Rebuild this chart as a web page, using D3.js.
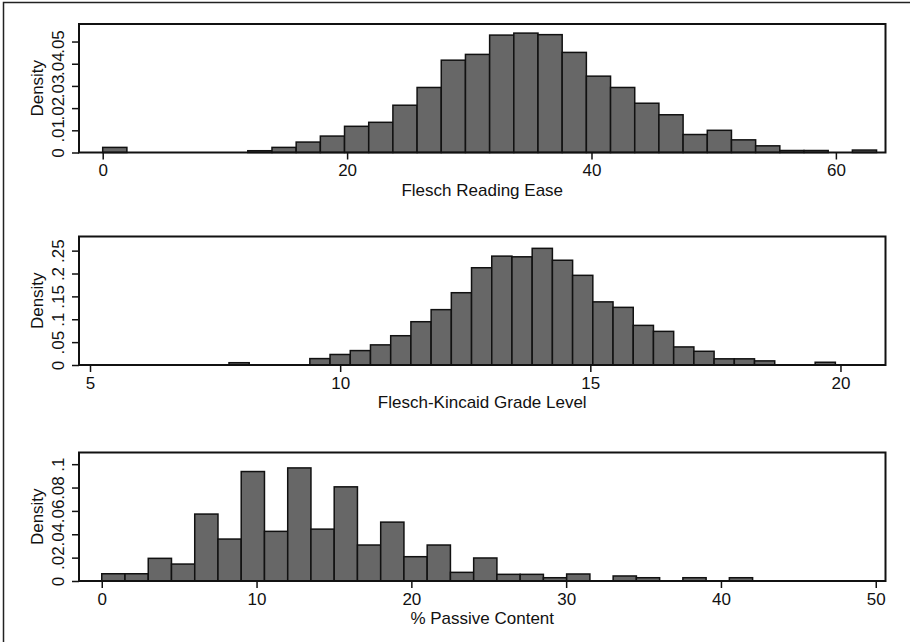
<!DOCTYPE html>
<html>
<head>
<meta charset="utf-8">
<script src="https://cdn.jsdelivr.net/npm/d3@7"></script>
<style>
  html, body { margin: 0; padding: 0; background: #fff; }
  svg { display: block; }
  text { font-family: "Liberation Sans", Arial, Helvetica, sans-serif; fill: #111; }
</style>
</head>
<body>
<svg id="chart" width="910" height="642"></svg>
<script>
// ---------- DATA ----------
// Flesch Reading Ease histogram (32 bins)
const freBinStart = 0;
const freBinWidth = 1.979;
const freDensity = [0.0023, 0, 0, 0, 0, 0, 0.0008, 0.0023, 0.0047, 0.0074, 0.0118, 0.0136,
  0.0213, 0.0293, 0.0416, 0.0442, 0.0529, 0.0538, 0.0531, 0.0451, 0.0344, 0.0293, 0.0222,
  0.0170, 0.0081, 0.0100, 0.0057, 0.0030, 0.0009, 0.0009, 0, 0.0011];
const freXTicks = [0, 20, 40, 60];
const freYTicks = [0, 0.01, 0.02, 0.03, 0.04, 0.05];
const freYLabels = ["0", ".01", ".02", ".03", ".04", ".05"];

// Flesch-Kincaid Grade Level histogram (37 bins)
const fkBinStart = 4.95;
const fkBinWidth = 0.404;
const fkDensity = [0, 0, 0, 0, 0, 0, 0, 0.005, 0, 0, 0, 0.014, 0.023, 0.0315, 0.044, 0.064,
  0.0946, 0.121, 0.158, 0.2126, 0.238, 0.2365, 0.255, 0.229, 0.196, 0.138, 0.126, 0.0866,
  0.0735, 0.0395, 0.030, 0.0135, 0.0135, 0.009, 0, 0, 0.006];
const fkXTicks = [5, 10, 15, 20];
const fkYTicks = [0, 0.05, 0.1, 0.15, 0.2, 0.25];
const fkYLabels = ["0", ".05", ".1", ".15", ".2", ".25"];

// % Passive Content histogram (28 bins)
const pasBinStart = 0;
const pasBinWidth = 1.5016;
const pasDensity = [0.0062, 0.0062, 0.0194, 0.0145, 0.0573, 0.0359, 0.0937, 0.0425, 0.0968,
  0.0444, 0.0806, 0.0308, 0.0504, 0.0208, 0.0308, 0.0074, 0.0197, 0.0057, 0.0057, 0.0028,
  0.006, 0, 0.0043, 0.0028, 0, 0.0028, 0, 0.0028];
const pasXTicks = [0, 10, 20, 30, 40, 50];
const pasYTicks = [0, 0.02, 0.04, 0.06, 0.08, 0.1];
const pasYLabels = ["0", ".02", ".04", ".06", ".08", ".1"];

const panels = [
  { title: "Flesch Reading Ease", start: freBinStart, width: freBinWidth, dens: freDensity,
    xt: freXTicks, yt: freYTicks, yl: freYLabels, xdom: [-1.94, 64.06], ymax: 0.0579, top: 24 },
  { title: "Flesch-Kincaid Grade Level", start: fkBinStart, width: fkBinWidth, dens: fkDensity,
    xt: fkXTicks, yt: fkYTicks, yl: fkYLabels, xdom: [4.78, 20.90], ymax: 0.2809, top: 236.5 },
  { title: "% Passive Content", start: pasBinStart, width: pasBinWidth, dens: pasDensity,
    xt: pasXTicks, yt: pasYTicks, yl: pasYLabels, xdom: [-1.47, 50.63], ymax: 0.110, top: 452.5 }
];

// ---------- DRAW ----------
const svg = d3.select("#chart");
svg.append("rect").attr("width", 910).attr("height", 642).attr("fill", "#fff");
// outer frame (only left/top visible in the crop)
svg.append("rect").attr("x", 3.5).attr("y", 2.5).attr("width", 1000).attr("height", 1000)
  .attr("fill", "none").attr("stroke", "#222").attr("stroke-width", 1.5);

const left = 79, right = 885.5, ph = 128.5;

panels.forEach(p => {
  const x = d3.scaleLinear().domain(p.xdom).range([left, right]);
  const y = d3.scaleLinear().domain([0, p.ymax]).range([p.top + ph, p.top]);
  const g = svg.append("g");

  const bins = p.dens.map((d, i) => ({ x0: p.start + i * p.width, x1: p.start + (i + 1) * p.width, d }));
  g.selectAll("rect.bar").data(bins.filter(b => b.d > 0)).join("rect")
    .attr("class", "bar")
    .attr("x", b => x(b.x0))
    .attr("width", b => x(b.x1) - x(b.x0))
    .attr("y", b => y(b.d))
    .attr("height", b => y(0) - y(b.d))
    .attr("fill", "#676767")
    .attr("stroke", "#111")
    .attr("stroke-width", 1.5);

  // plot frame
  g.append("rect").attr("x", left).attr("y", p.top).attr("width", right - left).attr("height", ph)
    .attr("fill", "none").attr("stroke", "#111").attr("stroke-width", 2);

  // x axis
  const xAxis = d3.axisBottom(x).tickValues(p.xt).tickSize(7).tickPadding(3).tickFormat(d3.format("d"));
  const xg = g.append("g").attr("transform", `translate(0,${p.top + ph})`).call(xAxis);
  xg.select(".domain").remove();
  xg.selectAll("line").attr("stroke", "#111").attr("stroke-width", 1.5);
  xg.selectAll("text").attr("font-size", 17).attr("font-family", "Liberation Sans, Arial, sans-serif")
    .attr("fill", "#111").attr("y", 23.5).attr("dy", null);

  // y axis
  const yAxis = d3.axisLeft(y).tickValues(p.yt).tickSize(7).tickFormat((d, i) => p.yl[i]);
  const yg = g.append("g").attr("transform", `translate(${left},0)`).call(yAxis);
  yg.select(".domain").remove();
  yg.selectAll("line").attr("stroke", "#111").attr("stroke-width", 1.5);
  yg.selectAll("text").attr("font-size", 17).attr("font-family", "Liberation Sans, Arial, sans-serif")
    .attr("fill", "#111").attr("x", null).attr("dy", null)
    .attr("text-anchor", "middle")
    .attr("transform", "translate(-15.5,0) rotate(-90)");

  // axis titles
  g.append("text").attr("x", (left + right) / 2).attr("y", p.top + ph + 43)
    .attr("text-anchor", "middle").attr("font-size", 17).text(p.title);
  g.append("text").attr("transform", `translate(43,${p.top + ph / 2}) rotate(-90)`)
    .attr("text-anchor", "middle").attr("font-size", 17).text("Density");
});
</script>
</body>
</html>
